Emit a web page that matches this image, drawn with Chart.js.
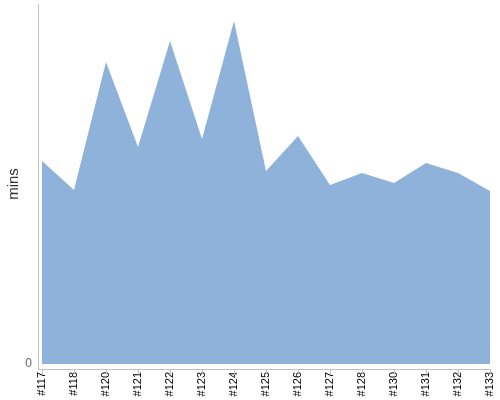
<!DOCTYPE html>
<html>
<head>
<meta charset="utf-8">
<script src="https://cdn.jsdelivr.net/npm/chart.js@4"></script>
<style>
html,body{margin:0;padding:0;background:#fff;}
#wrap{width:500px;height:400px;position:relative;}
</style>
</head>
<body>
<div id="wrap"><canvas id="c"></canvas></div>
<script>
const categories = ['#117','#118','#120','#121','#122','#123','#124','#125','#126','#127','#128','#130','#131','#132','#133'];
const minsValues = [20.3, 17.4, 30.2, 21.7, 32.3, 22.5, 34.3, 19.3, 22.8, 17.9, 19.1, 18.1, 20.1, 19.1, 17.3];
const yTickValues = [0];
const yMax = 36;

const axisLines = {
  id: 'axisLines',
  afterDatasetsDraw(chart) {
    const {ctx, chartArea} = chart;
    const xs = chart.scales.x;
    ctx.save();
    ctx.strokeStyle = '#c0c0c0';
    ctx.lineWidth = 1;
    const ax = Math.round(chartArea.left) - 3.5;
    const ay = Math.round(chartArea.bottom) + 5.5;
    ctx.beginPath();
    ctx.moveTo(ax, chartArea.top);
    ctx.lineTo(ax, ay);
    ctx.moveTo(ax, ay);
    ctx.lineTo(chartArea.right + 1, ay);
    for (let i = 0; i < categories.length; i++) {
      const px = Math.round(xs.getPixelForValue(i)) + 0.5;
      ctx.moveTo(px, ay);
      ctx.lineTo(px, ay + 5);
    }
    ctx.stroke();
    ctx.restore();
  }
};

function zeroPad(s) { s.paddingTop = 0; s.paddingBottom = 0; s.paddingLeft = 0; s.paddingRight = 0; }

new Chart(document.getElementById('c'), {
  type: 'line',
  data: {
    labels: categories,
    datasets: [{
      data: minsValues,
      fill: 'origin',
      backgroundColor: '#8fb2da',
      borderWidth: 0,
      borderColor: 'rgba(0,0,0,0)',
      pointRadius: 0,
      tension: 0
    }]
  },
  options: {
    responsive: true,
    maintainAspectRatio: false,
    animation: false,
    layout: {padding: {top: 4, right: 10, left: 0, bottom: 0}},
    plugins: {legend: {display: false}, tooltip: {enabled: false}},
    scales: {
      x: {
        offset: false,
        grid: {display: false, drawTicks: false, tickLength: 0},
        border: {display: false},
        afterFit(s) { s.height = 36; zeroPad(s); },
        ticks: {
          autoSkip: false,
          minRotation: 90,
          maxRotation: 90,
          padding: 8,
          color: '#000',
          font: {family: 'Liberation Sans', size: 11}
        }
      },
      y: {
        min: 0,
        max: yMax,
        grid: {display: false, drawTicks: false, tickLength: 0},
        border: {display: false},
        afterFit(s) { s.width = 42; zeroPad(s); },
        afterBuildTicks(s) { s.ticks = yTickValues.map(v => ({value: v})); },
        ticks: {
          padding: 10,
          color: '#666',
          font: {family: 'Liberation Sans', size: 12}
        },
        title: {
          display: true,
          text: 'mins',
          color: '#333',
          padding: {top: 5, bottom: 0},
          font: {family: 'Liberation Sans', size: 15}
        }
      }
    }
  },
  plugins: [axisLines]
});
</script>
</body>
</html>
